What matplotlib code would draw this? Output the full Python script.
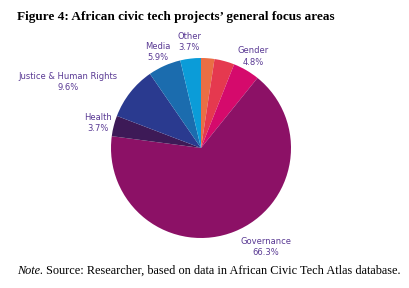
import numpy as np
import matplotlib
matplotlib.use("Agg")
import matplotlib.pyplot as plt

# data, clockwise from 12 o'clock
areas = ["", "", "Gender", "Governance", "Health", "Justice & Human Rights", "Media", "Other"]
shares = [2.4, 3.6, 4.8, 66.3, 3.7, 9.6, 5.9, 3.7]
colors = ["#EA6E44", "#E5394F", "#D50A6C", "#8C1166", "#3D1A57", "#2A3A8F", "#1B6CAE", "#0B9CD8"]

# label placement tweaks (distance from centre in radii, angle shift in degrees)
lab_dist = [0, 0, 1.17, 1.31, 1.18, 1.65, 1.17, 1.18]
lab_shift = [0, 0, 0.6, 11.4, 0.5, 11.9, 0, -0.4]

fig = plt.figure(figsize=(4.1, 2.88), dpi=100)
ax = fig.add_axes([0, 0, 1, 1])

wedges, _ = ax.pie(shares, colors=colors, startangle=90, counterclock=False,
                   wedgeprops=dict(linewidth=0))

txt_col = "#5A3A94"
for w, name, val, d, s in zip(wedges, areas, shares, lab_dist, lab_shift):
    if not name:
        continue
    ang = np.deg2rad((w.theta1 + w.theta2) / 2 + s)
    ax.text(d * np.cos(ang), d * np.sin(ang), f"{name}\n{val}%", ha="center", va="center",
            fontsize=6, color=txt_col, family="DejaVu Sans", linespacing=1.3)

ax.set_xlim(-201 / 90, 209 / 90)
ax.set_ylim(-140 / 90, 148 / 90)
ax.axis("off")

fig.text(17 / 410, 1 - 17 / 288, "Figure 4: African civic tech projects\u2019 general focus areas",
         fontsize=9.5, fontweight="bold", family="Liberation Serif", va="center", ha="left")

# note line: italic "Note." then the source text
note = fig.text(17 / 410, 1 - 271 / 288, "Note.", fontsize=8.8, family="Liberation Serif",
                style="italic", va="center", ha="left")
fig.canvas.draw()
bb = note.get_window_extent()
fig.text((bb.x1 + 3) / 410, 1 - 271 / 288,
         "Source: Researcher, based on data in African Civic Tech Atlas database.",
         fontsize=8.8, family="Liberation Serif", va="center", ha="left")

fig.savefig("out.png", dpi=100)
